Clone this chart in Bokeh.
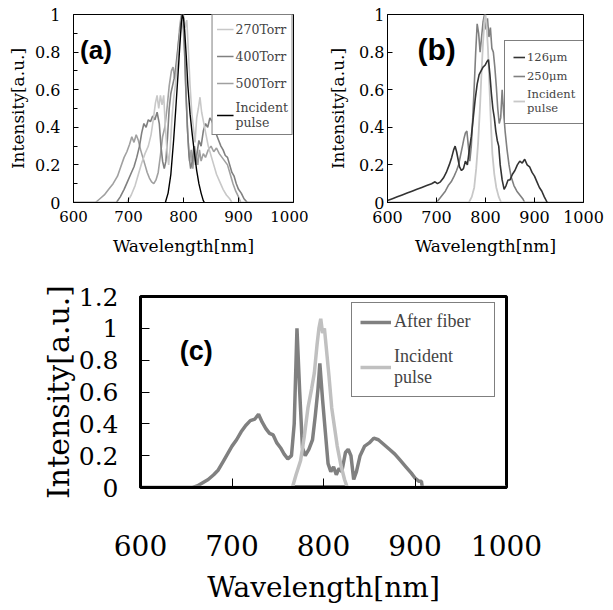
from bokeh.plotting import figure
from bokeh.models import Range1d, FixedTicker, Legend, LegendItem, Label
from bokeh.layouts import column, row
from bokeh.embed import file_html
from bokeh.resources import INLINE

# ---------------- data: panel (a) ----------------
a_wl_270 = [600, 697, 705, 712, 718, 724, 730, 736, 741, 745, 749, 752, 755, 758, 761, 764, 767, 770, 773, 776,
            779, 782, 785, 788, 791, 794, 797, 800, 803, 806, 809, 812, 815, 818, 821, 824, 827, 830, 833, 837,
            841, 845, 850, 855, 860, 866, 872, 878, 884, 888, 1000]
a_i_270 = [0, 0, 0.04, 0.09, 0.15, 0.21, 0.26, 0.30, 0.36, 0.44, 0.53, 0.57, 0.50, 0.57, 0.52, 0.57, 0.40, 0.28, 0.20, 0.30,
           0.45, 0.55, 0.62, 0.72, 0.80, 0.90, 0.95, 1.0, 0.93, 0.97, 0.80, 0.62, 0.48, 0.40, 0.32, 0.45, 0.50, 0.56, 0.48, 0.42,
           0.36, 0.30, 0.25, 0.20, 0.15, 0.11, 0.07, 0.04, 0.02, 0, 0]

a_wl_400 = [600, 678, 685, 692, 698, 704, 710, 715, 720, 724, 728, 732, 736, 740, 744, 748, 752, 756, 759, 762, 765,
            768, 771, 774, 777, 780, 783, 786, 789, 792, 795, 798, 801, 804, 807, 810, 813, 816, 819, 822, 825, 828,
            832, 836, 840, 844, 848, 852, 856, 860, 864, 868, 872, 876, 880, 884, 888, 892, 896, 900, 905, 910, 916, 1000]
a_i_400 = [0, 0, 0.03, 0.07, 0.11, 0.15, 0.19, 0.24, 0.30, 0.37, 0.42, 0.40, 0.44, 0.43, 0.46, 0.44, 0.48, 0.42, 0.30, 0.22, 0.18,
           0.22, 0.35, 0.50, 0.58, 0.62, 0.66, 0.72, 0.80, 0.88, 0.94, 1.0, 0.90, 0.62, 0.40, 0.25, 0.18, 0.22, 0.30, 0.20, 0.27, 0.33,
           0.30, 0.38, 0.42, 0.40, 0.45, 0.43, 0.40, 0.36, 0.33, 0.30, 0.28, 0.25, 0.24, 0.20, 0.16, 0.14, 0.10, 0.07, 0.05, 0.02, 0, 0]

a_wl_500 = [600, 640, 648, 656, 664, 672, 680, 686, 692, 697, 702, 706, 710, 714, 718, 722, 726, 730, 734, 738, 742,
            746, 750, 754, 758, 762, 766, 770, 774, 778, 781, 784, 787, 790, 793, 796, 799, 802, 805, 808, 811, 814,
            817, 820, 823, 826, 829, 832, 836, 840, 845, 850, 855, 860, 865, 870, 875, 880, 885, 890, 895, 900, 904, 1000]
a_i_500 = [0, 0, 0.02, 0.04, 0.07, 0.10, 0.14, 0.19, 0.24, 0.27, 0.31, 0.35, 0.32, 0.36, 0.33, 0.28, 0.24, 0.20, 0.16, 0.13, 0.11,
           0.10, 0.12, 0.16, 0.25, 0.35, 0.40, 0.50, 0.62, 0.70, 0.72, 0.66, 0.70, 0.82, 0.93, 1.0, 0.96, 0.80, 0.55, 0.35, 0.22, 0.28,
           0.18, 0.30, 0.25, 0.20, 0.28, 0.22, 0.26, 0.24, 0.28, 0.30, 0.27, 0.29, 0.26, 0.24, 0.22, 0.20, 0.15, 0.10, 0.06, 0.03, 0, 0]

a_wl_inc = [767, 772, 777, 782, 786, 790, 793, 796, 798, 800, 802, 805, 808, 812, 816, 820, 824, 828, 832, 836, 838]
a_i_inc = [0, 0.05, 0.15, 0.33, 0.50, 0.68, 0.82, 0.95, 1.0, 0.98, 0.92, 0.78, 0.62, 0.47, 0.36, 0.26, 0.17, 0.10, 0.05, 0.01, 0]

# ---------------- data: panel (b) ----------------
b_wl_126 = [600, 610, 620, 630, 640, 650, 660, 670, 680, 690, 697, 702, 708, 714, 720, 726, 731, 735, 738, 741, 744,
            747, 751, 755, 759, 763, 767, 771, 775, 779, 783, 787, 791, 795, 799, 803, 806, 809, 812, 815, 818, 821,
            824, 827, 830, 834, 838, 842, 846, 850, 855, 860, 865, 870, 875, 880, 885, 890, 895, 900, 905, 910, 915, 920, 926]
b_i_126 = [0.01, 0.02, 0.03, 0.04, 0.05, 0.06, 0.07, 0.08, 0.09, 0.10, 0.11, 0.10, 0.11, 0.13, 0.16, 0.20, 0.24, 0.28, 0.30, 0.27, 0.23,
           0.19, 0.17, 0.18, 0.22, 0.20, 0.28, 0.35, 0.45, 0.55, 0.63, 0.68, 0.70, 0.72, 0.73, 0.75, 0.76, 0.68, 0.58, 0.50, 0.45, 0.38,
           0.33, 0.30, 0.20, 0.12, 0.07, 0.09, 0.12, 0.12, 0.15, 0.17, 0.20, 0.22, 0.21, 0.23, 0.20, 0.19, 0.16, 0.14, 0.11, 0.08, 0.06, 0.03, 0]

b_wl_250 = [600, 700, 706, 712, 718, 724, 730, 736, 741, 745, 749, 753, 756, 759, 762, 765, 768, 771, 774, 777, 780,
            783, 786, 789, 792, 795, 798, 801, 804, 807, 810, 813, 816, 819, 822, 825, 828, 831, 834, 837, 840, 844,
            848, 852, 858, 864, 870, 876, 880, 1000]
b_i_250 = [0, 0, 0.02, 0.04, 0.06, 0.09, 0.11, 0.14, 0.17, 0.20, 0.25, 0.30, 0.34, 0.37, 0.38, 0.30, 0.22, 0.30, 0.45, 0.62, 0.80,
           0.95, 0.90, 0.80, 0.88, 0.96, 1.0, 0.92, 0.98, 0.88, 0.93, 0.82, 0.80, 0.72, 0.62, 0.50, 0.42, 0.45, 0.60, 0.48, 0.38, 0.28,
           0.20, 0.14, 0.09, 0.06, 0.04, 0.02, 0, 0]

b_wl_inc = [600, 766, 772, 777, 781, 785, 789, 792, 795, 798, 800, 802, 805, 808, 811, 814, 818, 822, 827, 832, 1000]
b_i_inc = [0, 0, 0.03, 0.08, 0.18, 0.32, 0.52, 0.70, 0.85, 0.97, 1.0, 0.95, 0.82, 0.62, 0.42, 0.26, 0.15, 0.08, 0.03, 0, 0]

# ---------------- data: panel (c) ----------------
c_wl_fib = [600, 657, 662, 668, 674, 680, 685, 690, 695, 700, 705, 710, 715, 720, 725, 729, 733, 737, 741, 745, 749,
            753, 757, 761, 765, 768, 771, 774, 777, 780, 784, 788, 791, 794, 796, 799, 802, 805, 808, 811, 814, 817,
            820, 824, 827, 830, 833, 836, 840, 845, 850, 855, 860, 866, 872, 878, 884, 890, 896, 900, 904, 907, 908, 1000]
c_i_fib = [0, 0, 0.01, 0.03, 0.05, 0.08, 0.11, 0.16, 0.21, 0.26, 0.30, 0.35, 0.39, 0.42, 0.43, 0.46, 0.41, 0.37, 0.34, 0.33, 0.28,
           0.25, 0.21, 0.18, 0.20, 0.40, 1.0, 0.60, 0.25, 0.20, 0.24, 0.30, 0.45, 0.62, 0.78, 0.55, 0.35, 0.15, 0.10, 0.13, 0.08, 0.12,
           0.10, 0.22, 0.24, 0.20, 0.05, 0.10, 0.20, 0.26, 0.28, 0.31, 0.30, 0.27, 0.24, 0.21, 0.17, 0.13, 0.09, 0.06, 0.04, 0.04, 0, 0]

c_wl_inc = [600, 766, 770, 775, 779, 783, 787, 790, 793, 795, 797, 799, 801, 803, 806, 809, 812, 815, 819, 823, 826, 1000]
c_i_inc = [0, 0, 0.08, 0.17, 0.32, 0.50, 0.62, 0.72, 0.90, 1.0, 1.06, 0.97, 1.0, 0.88, 0.70, 0.50, 0.38, 0.26, 0.14, 0.05, 0, 0]

c_wl_base = [768, 824]
c_i_base = [0, 0]

x_ticks = [600, 700, 800, 900, 1000]
y_ticks_1 = [0, 0.2, 0.4, 0.6, 0.8, 1]
y_minor_1 = [0.1, 0.3, 0.5, 0.7, 0.9]
y_ticks_12 = [0, 0.2, 0.4, 0.6, 0.8, 1, 1.2]
y_overrides = {0: "0", 1: "1"}

SERIF = "DejaVu Serif"


def make_fig(width, height, left, right, top, bottom, ymax):
    p = figure(width=width, height=height, x_range=Range1d(600, 1000), y_range=Range1d(0, ymax),
               output_backend="svg", toolbar_location=None,
               min_border_left=left, min_border_right=right, min_border_top=top, min_border_bottom=bottom)
    p.xgrid.visible = False
    p.ygrid.visible = False
    p.background_fill_color = "white"
    p.border_fill_color = "white"
    return p


def style_axes(p, tick_font, title_font, xstand, xtstand, ystand, ytstand, lw, ticklen, minor=None, yt=None):
    xa = p.xaxis[0]
    ya = p.yaxis[0]
    xa.ticker = FixedTicker(ticks=x_ticks)
    ya.ticker = FixedTicker(ticks=yt, minor_ticks=minor or [])
    ya.major_label_overrides = y_overrides
    for ax in (xa, ya):
        ax.major_tick_in = ticklen
        ax.major_tick_out = 0
        ax.minor_tick_in = 4 if minor else 0
        ax.minor_tick_out = 0
        ax.major_tick_line_color = "black"
        ax.minor_tick_line_color = "black"
        ax.axis_line_color = "black"
        ax.axis_line_width = lw
        ax.major_label_text_font = SERIF
        ax.major_label_text_color = "black"
        ax.axis_label_text_font = SERIF
        ax.axis_label_text_font_style = "normal"
        ax.axis_label_text_color = "black"
    xa.major_label_text_font_size = tick_font[0]
    ya.major_label_text_font_size = tick_font[1]
    xa.axis_label = "Wavelength[nm]"
    ya.axis_label = "Intensity[a.u.]"
    xa.axis_label_text_font_size = title_font[0]
    ya.axis_label_text_font_size = title_font[1]
    xa.major_label_standoff = xstand
    xa.axis_label_standoff = xtstand
    ya.major_label_standoff = ystand
    ya.axis_label_standoff = ytstand
    p.outline_line_color = "black"
    p.outline_line_width = lw
    p.outline_line_alpha = 1


# ---------------- panel (a) ----------------
pa = make_fig(308, 270, 73, 15, 13, 67, 1)
style_axes(pa, ("15px", "16px"), ("17px", "17px"), 8, 11, 13, 4, 1, 5, minor=y_minor_1, yt=y_ticks_1)
r500 = pa.line(a_wl_500, a_i_500, line_color="#a0a0a0", line_width=1.6)
r400 = pa.line(a_wl_400, a_i_400, line_color="#808080", line_width=1.6)
r270 = pa.line(a_wl_270, a_i_270, line_color="#c8c8c8", line_width=1.6)
rinc_a = pa.line(a_wl_inc, a_i_inc, line_color="black", line_width=1.4)
leg_a = Legend(items=[LegendItem(label="270Torr", renderers=[r270]),
                      LegendItem(label="400Torr", renderers=[r400]),
                      LegendItem(label="500Torr", renderers=[r500]),
                      LegendItem(label="Incident\npulse", renderers=[rinc_a])],
               location="top_right", margin=0, padding=4, spacing=7,
               glyph_width=17, glyph_height=20, label_height=20, label_standoff=2,
               label_text_font=SERIF, label_text_font_size="12.5px", label_text_line_height=1.2,
               border_line_color="black", border_line_width=1,
               background_fill_color="white", background_fill_alpha=1)
pa.add_layout(leg_a)
pa.add_layout(Label(x=612, y=0.81, text="(a)", text_font="Liberation Sans", text_font_style="bold",
                    text_font_size="26px", text_baseline="middle", text_color="black"))

# ---------------- panel (b) ----------------
pb = make_fig(297, 270, 79, 22, 14, 68, 1)
style_axes(pb, ("16px", "16px"), ("17px", "17px"), 8, 10, 3, 8, 1, 5, yt=y_ticks_1)
r250 = pb.line(b_wl_250, b_i_250, line_color="#808080", line_width=1.6)
rinc_b = pb.line(b_wl_inc, b_i_inc, line_color="#c8c8c8", line_width=1.8)
r126 = pb.line(b_wl_126, b_i_126, line_color="#333333", line_width=1.6)
leg_b = Legend(items=[LegendItem(label="126\u03bcm", renderers=[r126]),
                      LegendItem(label="250\u03bcm", renderers=[r250]),
                      LegendItem(label="Incident\npulse", renderers=[rinc_b])],
               location=(117, 78), margin=0, padding=8, spacing=3,
               glyph_width=12, glyph_height=16, label_height=16, label_standoff=2,
               label_text_font=SERIF, label_text_font_size="11.5px", label_text_line_height=1.2,
               border_line_color="black", border_line_width=1,
               background_fill_color="white", background_fill_alpha=1)
pb.add_layout(leg_b)
pb.add_layout(Label(x=661, y=0.815, text="(b)", text_font="Liberation Sans", text_font_style="bold",
                    text_font_size="30px", text_baseline="middle", text_color="black"))

# ---------------- panel (c) ----------------
pc = make_fig(605, 338, 140, 99, 26, 121, 1.2)
style_axes(pc, ("28px", "25px"), ("28px", "30px"), 47, 12, 22, 0, 3, 9, yt=y_ticks_12)
pc.line(c_wl_base, c_i_base, line_color="black", line_width=4)
rfib = pc.line(c_wl_fib, c_i_fib, line_color="#808080", line_width=3.5)
rinc_c = pc.line(c_wl_inc, c_i_inc, line_color="#c0c0c0", line_width=3.5)
leg_c = Legend(items=[LegendItem(label="After fiber", renderers=[rfib]),
                      LegendItem(label="Incident\npulse", renderers=[rinc_c])],
               location=(211, 90), margin=0, padding=8, spacing=14,
               glyph_width=31, glyph_height=18, label_height=18, label_standoff=3, label_width=92,
               label_text_font="Liberation Serif", label_text_font_size="18px", label_text_line_height=1.3,
               border_line_color="black", border_line_width=1,
               background_fill_color="white", background_fill_alpha=1)
pc.add_layout(leg_c)
pc.add_layout(Label(x=643, y=0.86, text="(c)", text_font="Liberation Sans", text_font_style="bold",
                    text_font_size="27px", text_baseline="middle", text_color="black"))

layout = column(row(pa, pb), pc)
open("out.html", "w").write(file_html(layout, INLINE))
